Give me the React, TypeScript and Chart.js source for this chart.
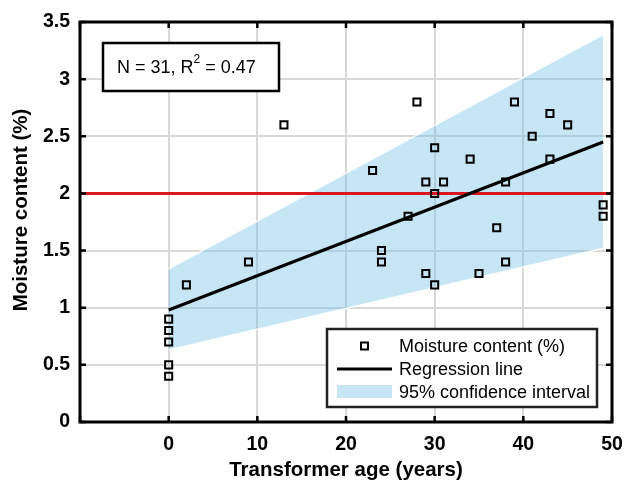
import React, { useEffect, useRef } from "react";
import { Chart, registerables } from "chart.js";

Chart.register(...registerables);

// ---- Data ----
const ageYears = [13, 28, 39, 43, 45, 41, 30, 34, 43, 23, 29, 31, 30, 38, 49, 49, 27, 37, 2, 9, 0, 0, 0, 0, 0, 24, 24, 29, 30, 35, 38];
const moisture = [2.6, 2.8, 2.8, 2.7, 2.6, 2.5, 2.4, 2.3, 2.3, 2.2, 2.1, 2.1, 2.0, 2.1, 1.9, 1.8, 1.8, 1.7, 1.2, 1.4, 0.9, 0.8, 0.7, 0.5, 0.4, 1.5, 1.4, 1.3, 1.2, 1.3, 1.4];

const regressionX = [0, 49];
const regressionY = [0.98, 2.45];

const bandX = [0, 49];
const bandUpper = [1.34, 3.39];
const bandLower = [0.63, 1.52];

const thresholdX = [-10, 50];
const thresholdY = [2, 2];

const xTicks = { min: -10, max: 50, step: 10 };
const yTicks = { min: 0, max: 3.5, step: 0.5 };

const sampleSize = 31;
const rSquared = 0.47;

const labels = {
  scatter: "Moisture content (%)",
  regression: "Regression line",
  band: "95% confidence interval",
  xTitle: "Transformer age (years)",
  yTitle: "Moisture content (%)",
};

const FONT = '"Liberation Sans", Arial, sans-serif';
const BAND_COLOR = "rgba(112, 192, 232, 0.4)";

const overlayPlugin = {
  id: "overlay",
  afterDraw(chart: any) {
    const { ctx, chartArea: a } = chart;
    const xs = chart.scales.x;
    const ys = chart.scales.y;
    ctx.save();
    // inner ticks
    ctx.strokeStyle = "#000";
    ctx.lineWidth = 2.5;
    const tl = 6;
    ctx.beginPath();
    xs.ticks.forEach((t: any) => {
      const px = xs.getPixelForValue(t.value);
      ctx.moveTo(px, a.bottom);
      ctx.lineTo(px, a.bottom - tl);
      ctx.moveTo(px, a.top);
      ctx.lineTo(px, a.top + tl);
    });
    ys.ticks.forEach((t: any) => {
      const py = ys.getPixelForValue(t.value);
      ctx.moveTo(a.left, py);
      ctx.lineTo(a.left + tl, py);
      ctx.moveTo(a.right, py);
      ctx.lineTo(a.right - tl, py);
    });
    ctx.stroke();
    // axes box
    ctx.lineWidth = 3;
    ctx.strokeRect(a.left, a.top, a.right - a.left, a.bottom - a.top);

    // y axis title
    ctx.save();
    ctx.translate(21, (a.top + a.bottom) / 2 - 12);
    ctx.rotate(-Math.PI / 2);
    ctx.fillStyle = "#000";
    ctx.font = `bold 20.5px ${FONT}`;
    ctx.textAlign = "center";
    ctx.textBaseline = "middle";
    ctx.fillText(labels.yTitle, 0, 0);
    ctx.restore();

    // annotation box
    const bx = a.left + 23;
    const by = a.top + 21;
    const bw = 176;
    const bh = 48;
    ctx.fillStyle = "#fff";
    ctx.fillRect(bx, by, bw, bh);
    ctx.lineWidth = 2.5;
    ctx.strokeStyle = "#000";
    ctx.strokeRect(bx, by, bw, bh);
    ctx.fillStyle = "#000";
    ctx.textBaseline = "middle";
    ctx.textAlign = "left";
    ctx.font = `18px ${FONT}`;
    const t1 = `N = ${sampleSize}, R`;
    const t3 = ` = ${rSquared.toFixed(2)}`;
    let tx = bx + 14;
    const ty = by + bh / 2 + 1;
    ctx.fillText(t1, tx, ty);
    tx += ctx.measureText(t1).width;
    ctx.font = `12px ${FONT}`;
    ctx.fillText("2", tx, ty - 8);
    tx += ctx.measureText("2").width;
    ctx.font = `18px ${FONT}`;
    ctx.fillText(t3, tx, ty);

    // legend
    const lw = 270;
    const lh = 78;
    const lx = a.right - 15 - lw;
    const ly = a.bottom - 15 - lh;
    ctx.fillStyle = "#fff";
    ctx.fillRect(lx, ly, lw, lh);
    ctx.strokeStyle = "#222";
    ctx.lineWidth = 2.5;
    ctx.strokeRect(lx, ly, lw, lh);
    const rows = [ly + 17, ly + 40, ly + 63];
    const sx0 = lx + 10;
    const sx1 = lx + 65;
    const sxc = (sx0 + sx1) / 2;
    // marker
    ctx.strokeStyle = "#000";
    ctx.lineWidth = 2;
    ctx.strokeRect(sxc - 3.5, rows[0] - 3.5, 7, 7);
    // line
    ctx.lineWidth = 3;
    ctx.beginPath();
    ctx.moveTo(sx0, rows[1]);
    ctx.lineTo(sx1, rows[1]);
    ctx.stroke();
    // band swatch
    ctx.fillStyle = BAND_COLOR;
    ctx.fillRect(sx0, rows[2] - 7, sx1 - sx0, 13);
    ctx.fillStyle = "#000";
    ctx.font = `18px ${FONT}`;
    const names = [labels.scatter, labels.regression, labels.band];
    names.forEach((n, i) => ctx.fillText(n, lx + 72, rows[i] + 1));
    ctx.restore();
  },
};

export default function App() {
  const ref = useRef<HTMLCanvasElement | null>(null);
  useEffect(() => {
    if (!ref.current) return;
    Chart.defaults.font.family = FONT;
    const chart = new Chart(ref.current, {
      type: "scatter",
      data: {
        datasets: [
          {
            type: "scatter",
            label: labels.scatter,
            data: ageYears.map((x, i) => ({ x, y: moisture[i] })),
            pointStyle: "rect",
            pointRadius: 5,
            pointBorderWidth: 2,
            pointBorderColor: "#000",
            pointBackgroundColor: "rgba(0,0,0,0)",
            order: 0,
          },
          {
            type: "line",
            label: labels.regression,
            data: regressionX.map((x, i) => ({ x, y: regressionY[i] })),
            borderColor: "#000",
            borderWidth: 3,
            pointRadius: 0,
            fill: false,
            order: 1,
          },
          {
            type: "line",
            label: "Threshold",
            data: thresholdX.map((x, i) => ({ x, y: thresholdY[i] })),
            borderColor: "rgb(218, 24, 30)",
            borderWidth: 3,
            pointRadius: 0,
            fill: false,
            order: 2,
          },
          {
            type: "line",
            label: "upper",
            data: bandX.map((x, i) => ({ x, y: bandUpper[i] })),
            borderColor: "rgba(255,255,255,0.9)",
            borderWidth: 1.5,
            pointRadius: 0,
            fill: false,
            order: 3,
          },
          {
            type: "line",
            label: labels.band,
            data: bandX.map((x, i) => ({ x, y: bandLower[i] })),
            borderColor: "rgba(255,255,255,0.9)",
            borderWidth: 1.5,
            backgroundColor: BAND_COLOR,
            pointRadius: 0,
            fill: "-1",
            order: 4,
          },
        ],
      },
      options: {
        animation: false,
        responsive: false,
        devicePixelRatio: 1,
        layout: { padding: { left: 0, top: 22, right: 13, bottom: 0 } },
        plugins: {
          legend: { display: false },
          tooltip: { enabled: false },
        },
        scales: {
          x: {
            type: "linear",
            min: xTicks.min,
            max: xTicks.max,
            afterFit: (s: any) => {
              s.height = 61;
              s.paddingLeft = 0;
              s.paddingRight = 0;
            },
            ticks: {
              stepSize: xTicks.step,
              color: "#000",
              font: { size: 19.5, weight: "bold" },
              padding: 11,
              autoSkip: false,
              maxRotation: 0,
              callback: (v: any) => (v === xTicks.min ? "" : String(v)),
            },
            grid: { color: "#d8d8d8", lineWidth: 2, drawTicks: false },
            border: { display: false },
            title: {
              display: true,
              text: labels.xTitle,
              color: "#000",
              font: { size: 20.5, weight: "bold" },
              padding: { top: 0, bottom: 0 },
            },
          },
          y: {
            type: "linear",
            min: yTicks.min,
            max: yTicks.max,
            afterFit: (s: any) => {
              s.width = 80;
              s.paddingTop = 0;
              s.paddingBottom = 0;
            },
            ticks: {
              stepSize: yTicks.step,
              color: "#000",
              font: { size: 19.5, weight: "bold" },
              padding: 10,
              callback: (v: any) => String(Number(Number(v).toFixed(2))),
            },
            grid: { color: "#d8d8d8", lineWidth: 2, drawTicks: false },
            border: { display: false },
            title: { display: false },
          },
        },
      },
      plugins: [overlayPlugin],
    });
    return () => chart.destroy();
  }, []);
  return (
    <div style={{ position: "absolute", left: 0, top: 0, width: 625, height: 483, background: "#fff" }}>
      <canvas ref={ref} width={625} height={483} />
    </div>
  );
}
